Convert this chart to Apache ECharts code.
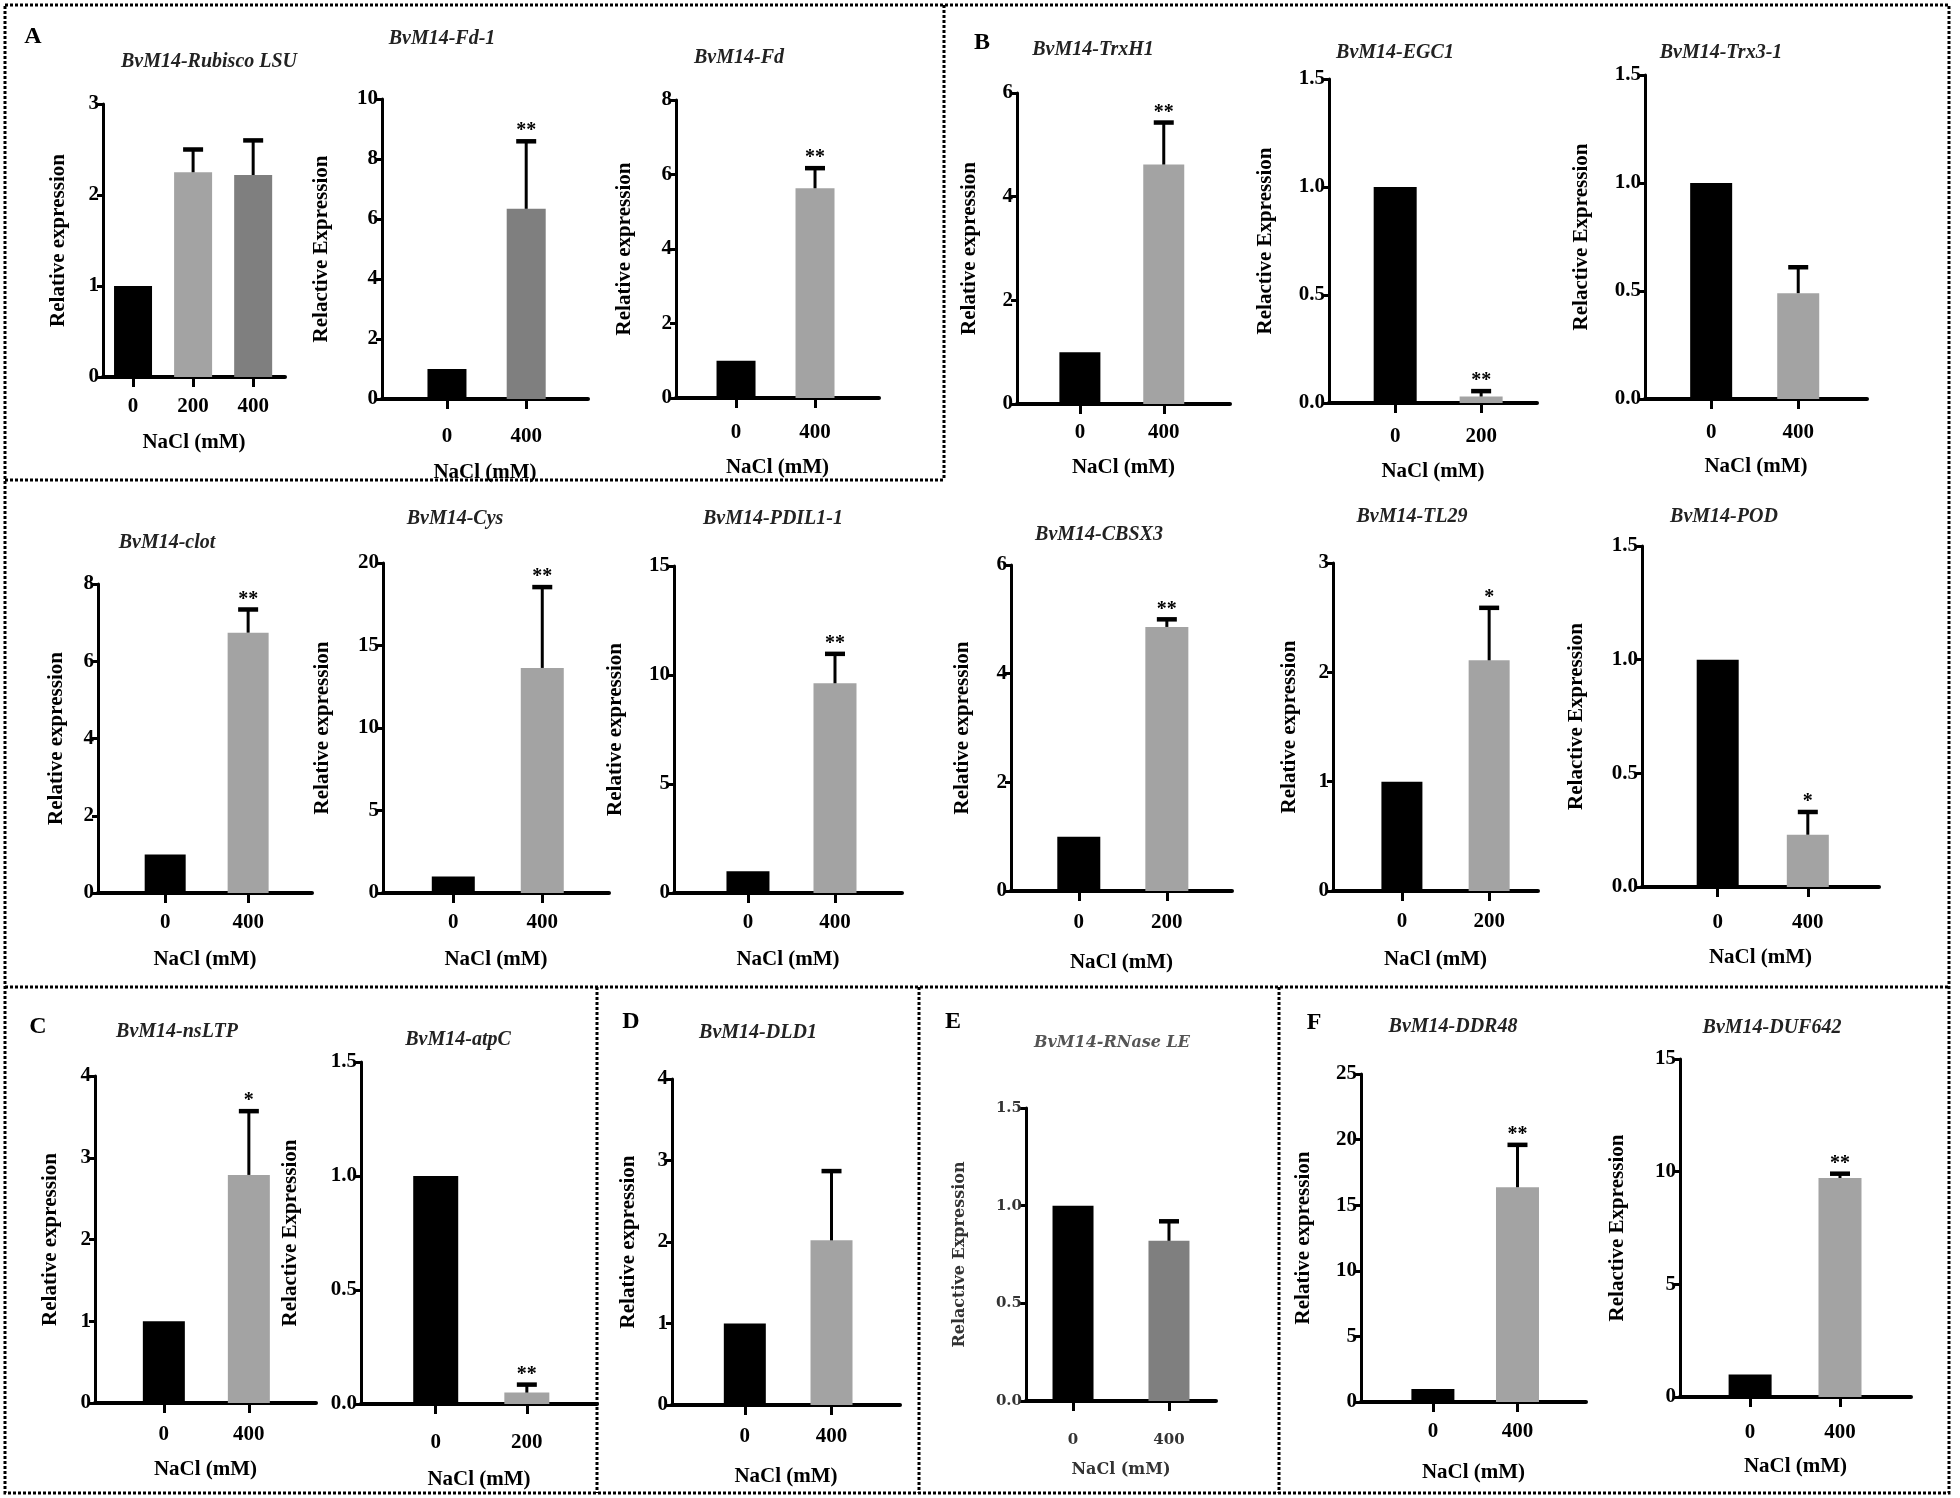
<!DOCTYPE html>
<html><head><meta charset="utf-8">
<script src="https://cdn.jsdelivr.net/npm/echarts@6/dist/echarts.min.js"></script>
<style>html,body{margin:0;padding:0;background:#fff}#c{width:1960px;height:1498px}</style>
</head><body><div id="c"></div>
<script>
// ---------------- DATA ----------------
const geneTitles = ['BvM14-Rubisco LSU','BvM14-Fd-1','BvM14-Fd','BvM14-TrxH1','BvM14-EGC1','BvM14-Trx3-1',
  'BvM14-clot','BvM14-Cys','BvM14-PDIL1-1','BvM14-CBSX3','BvM14-TL29','BvM14-POD',
  'BvM14-nsLTP','BvM14-atpC','BvM14-DLD1','BvM14-RNase LE','BvM14-DDR48','BvM14-DUF642'];
const naclDoses = [['0','200','400'],['0','400'],['0','400'],['0','400'],['0','200'],['0','400'],
  ['0','400'],['0','400'],['0','400'],['0','200'],['0','200'],['0','400'],
  ['0','400'],['0','200'],['0','400'],['0','400'],['0','400'],['0','400']];
const meanExpression = [[1,2.25,2.22],[1,6.34],[1,5.63],[1,4.62],[1,0.03],[1,0.49],
  [1,6.74],[1,13.64],[1,9.62],[1,4.86],[1,2.11],[1,0.23],
  [1,2.79],[1,0.05],[1,2.02],[1,0.82],[1,16.37],[1,9.72]];
const errorSD = [[0,0.25,0.38],[0,2.25],[0,0.54],[0,0.81],[0,0.025],[0,0.12],
  [0,0.6],[0,4.9],[0,1.35],[0,0.14],[0,0.48],[0,0.1],
  [0,0.78],[0,0.035],[0,0.85],[0,0.1],[0,3.23],[0,0.19]];
const significance = [['','',''],['','**'],['','**'],['','**'],['','**'],['',''],
  ['','**'],['','**'],['','**'],['','**'],['','*'],['','*'],
  ['','*'],['','**'],['',''],['',''],['','**'],['','**']];
const yAxisMax = [3,10,8,6,1.5,1.5,8,20,15,6,3,1.5,4,1.5,4,1.5,25,15];
const yAxisStep = [1,2,2,2,0.5,0.5,2,5,5,2,1,0.5,1,0.5,1,0.5,5,5];
const yAxisTitles = ['Relative expression','Relactive Expression','Relative expression','Relative expression','Relactive Expression','Relactive Expression',
  'Relative expression','Relative expression','Relative expression','Relative expression','Relative expression','Relactive Expression',
  'Relative expression','Relactive Expression','Relative expression','Relactive Expression','Relative expression','Relactive Expression'];
const xAxisTitle = 'NaCl (mM)';
const panelLetters = ['A','B','C','D','E','F'];

// ---------------- LAYOUT / STYLE ----------------
// [axisLeft, axisRight, yTop, yZero, xLabelY, xNameY, yNameX, titleX, titleY, xMin, xMax, barWidth]
const layout = [
  [103,285,104,377,407,443,58,209,62,0.5,3.53,38],
  [382,588,99,399,437,473,321,442,39,0.18,2.78,39],
  [676,879,100,398,433,468,624,739,58,0.24,2.81,39],
  [1017,1230,93,404,433,468,969,1093,50,0.25,2.79,41],
  [1329,1537,79,403,437,472,1265,1395,53,0.23,2.65,43],
  [1645,1867,75,399,433,467,1581,1721,53,0.24,2.79,42],
  [98,312,584,893,923,960,56,167,543,0.19,2.77,41],
  [383,609,563,893,923,960,322,455,519,0.21,2.75,43],
  [674,902,566,893,923,960,615,773,519,0.15,2.77,43],
  [1011,1232,565,891,923,963,962,1099,535,0.23,2.74,43],
  [1333,1538,563,891,922,960,1289,1412,517,0.21,2.56,41],
  [1642,1879,546,887,923,958,1576,1724,517,0.16,2.79,42],
  [95,316,1076,1403,1435,1470,50,177,1032,0.19,2.79,42],
  [361,597,1062,1404,1443,1480,290,458,1040,0.18,2.77,45],
  [672,900,1079,1405,1437,1477,628,758,1033,0.16,2.79,42],
  [1026,1216,1108,1401,1440,1470,960,1112,1043,0.51,2.49,41],
  [1361,1586,1074,1402,1432,1473,1303,1453,1027,0.15,2.81,43],
  [1680,1911,1059,1397,1433,1467,1617,1772,1028,0.22,2.79,43]
];
const panelLetterPos = [[33,37],[982,43],[38,1027],[631,1022],[953,1022],[1314,1023]];
const BLACK = '#000000', LIGHT = '#a3a3a3', DARK = '#7f7f7f';
const barColors = layout.map((_, i) => i === 0 ? [BLACK, LIGHT, DARK] : (i === 1 || i === 15) ? [BLACK, DARK] : [BLACK, LIGHT]);
const SERIF = '"Liberation Serif", "DejaVu Serif", serif';

// ---------------- BUILD ----------------
const grids = [], xAxes = [], yAxes = [], series = [], graphics = [];
layout.forEach((L, i) => {
  const [left, right, yTop, yZero, xLabY, xNameY, yNameX, titleX, titleY, xMin, xMax, barW] = L;
  const small = i === 15;
  const dec = yAxisStep[i] < 1 ? 1 : 0;
  const tickFont = small ? 15 : 21;
  const nameFont = small ? 16 : 21;
  const cats = naclDoses[i].map((_, k) => k + 1);
  grids.push({left: left, top: yTop, width: right - left, height: yZero - yTop, containLabel: false, outerBoundsMode: 'none'});
  xAxes.push({
    type: 'value', gridIndex: i, min: xMin, max: xMax,
    axisLine: {show: true, onZero: false, lineStyle: {color: '#000', width: 4}},
    axisTick: {show: true, customValues: cats, length: 10, lineStyle: {color: '#000', width: 3}},
    axisLabel: {show: true, customValues: cats, formatter: v => naclDoses[i][Math.round(v) - 1],
      margin: xLabY - yZero - tickFont / 2, color: small ? '#333' : '#000',
      fontFamily: small ? '"DejaVu Serif", serif' : SERIF, fontWeight: 'bold', fontSize: tickFont},
    splitLine: {show: false},
    name: xAxisTitle, nameLocation: 'middle', nameGap: xNameY - yZero - nameFont / 2,
    nameTextStyle: {color: small ? '#333' : '#000', fontFamily: small ? '"DejaVu Serif", serif' : SERIF, fontWeight: 'bold', fontSize: nameFont}
  });
  yAxes.push({
    type: 'value', gridIndex: i, min: 0, max: yAxisMax[i], interval: yAxisStep[i],
    axisLine: {show: true, lineStyle: {color: '#000', width: 3}},
    axisTick: {show: true, length: 6, lineStyle: {color: '#000', width: 3}},
    axisLabel: {formatter: v => v.toFixed(dec), margin: 4, color: small ? '#333' : '#000',
      fontFamily: small ? '"DejaVu Serif", serif' : SERIF, fontWeight: 'bold', fontSize: tickFont},
    splitLine: {show: false},
    name: yAxisTitles[i], nameLocation: 'middle', nameRotate: 90, nameMoveOverlap: false,
    nameGap: left - yNameX - (small ? 8 : 11),
    nameTextStyle: {color: small ? '#333' : '#000', fontFamily: small ? '"DejaVu Serif", serif' : SERIF, fontWeight: 'bold', fontSize: small ? 16 : 21}
  });
  series.push({
    type: 'bar', xAxisIndex: i, yAxisIndex: i, barWidth: barW, silent: true, animation: false,
    data: meanExpression[i].map((v, k) => ({value: [k + 1, v], itemStyle: {color: barColors[i][k]}}))
  });
  series.push({
    type: 'custom', xAxisIndex: i, yAxisIndex: i, silent: true, animation: false, clip: false, z: 5,
    data: meanExpression[i].map((v, k) => [k + 1, v + errorSD[i][k], v]),
    renderItem: (params, api) => {
      const k = params.dataIndex;
      const x = api.value(0), top = api.value(1), m = api.value(2);
      const pT = api.coord([x, top]), pM = api.coord([x, m]);
      const children = [];
      if (top > m) {
        children.push({type: 'line', shape: {x1: pT[0], y1: pM[1], x2: pT[0], y2: pT[1]}, style: {stroke: '#000', lineWidth: 3}});
        children.push({type: 'line', shape: {x1: pT[0] - 10, y1: pT[1], x2: pT[0] + 10, y2: pT[1]}, style: {stroke: '#000', lineWidth: 4.5}});
      }
      const s = significance[i][k];
      if (s) children.push({type: 'text', x: pT[0], y: pT[1] - 10,
        style: {text: s, align: 'center', verticalAlign: 'middle', font: 'bold 20px ' + SERIF, fill: '#000'}});
      return {type: 'group', children};
    }
  });
  graphics.push({type: 'text', x: titleX, y: titleY,
    style: {text: geneTitles[i], align: 'center', verticalAlign: 'middle',
      font: small ? 'italic bold 16px "DejaVu Serif", serif' : 'italic bold 20px ' + SERIF,
      fill: small ? '#555' : '#222'}});
});
panelLetters.forEach((t, j) => graphics.push({type: 'text', x: panelLetterPos[j][0], y: panelLetterPos[j][1],
  style: {text: t, align: 'center', verticalAlign: 'middle', font: 'bold 24px ' + SERIF, fill: '#000'}}));

// dotted panel borders
const dot = {stroke: '#000', lineWidth: 3, lineDash: [3, 2], fill: null};
graphics.push({type: 'rect', shape: {x: 5, y: 5, width: 1944, height: 1488}, style: Object.assign({}, dot)});
[[5,480,944,480],[944,5,944,480],[5,987,1949,987],[597,987,597,1493],[919,987,919,1493],[1279,987,1279,1493]]
  .forEach(l => graphics.push({type: 'line', shape: {x1: l[0], y1: l[1], x2: l[2], y2: l[3]}, style: Object.assign({}, dot)}));

const chart = echarts.init(document.getElementById('c'));
chart.setOption({
  backgroundColor: '#ffffff', animation: false,
  grid: grids, xAxis: xAxes, yAxis: yAxes, series: series, graphic: graphics
});
</script></body></html>
